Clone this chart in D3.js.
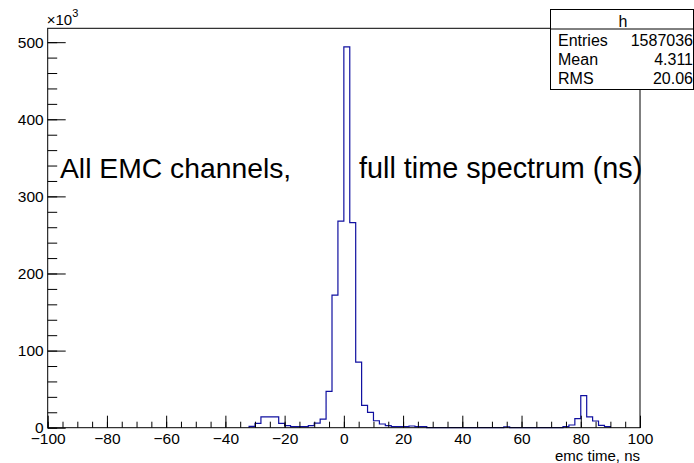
<!DOCTYPE html>
<html>
<head>
<meta charset="utf-8">
<script src="https://cdn.jsdelivr.net/npm/d3@7"></script>
<style>
  body { margin: 0; background: #fff; }
  svg { font-family: "Liberation Sans", Arial, sans-serif; }
</style>
</head>
<body>
<script>
// histogram bins, 2 ns wide, starting at -32 ns
const binStart = -32;
const binWidth = 2;
const counts = [
  1800, 5700, 14000, 14000, 14000, 5700, 2600, 1300, 1300, 1300,   // -32 .. -14
  2600, 6000, 11000, 47000, 172000, 268000,                          // -12 .. -2
  494000, 266000, 85000, 29000, 20000, 9000, 4800, 2600,              // 0 .. 14
  1300, 1300, 1300, 2200, 1300, 1300,                                 // 16 .. 26
  0, 0, 0, 0, 0, 0, 0, 0, 0, 0, 0, 0, 0,                              // 28 .. 52
  1000,                                                               // 54
  0, 0, 0, 0, 0, 0, 0, 0, 0,                                          // 56 .. 72
  1300, 3500, 11700, 41500, 14000, 8700, 3000, 1300                   // 74 .. 88
];

const xTicks = [-100, -80, -60, -40, -20, 0, 20, 40, 60, 80, 100];
const yTicks = [0, 100000, 200000, 300000, 400000, 500000];

const statsTitle = "h";
const statsRows = [["Entries", "1587036"], ["Mean", "4.311"], ["RMS", "20.06"]];

const width = 694, height = 463;
const m = {left: 47.7, right: 640, top: 28.3, bottom: 427.7};

const svg = d3.select("body").append("svg")
    .attr("width", width)
    .attr("height", height);

const x = d3.scaleLinear().domain([-100, 100]).range([m.left, m.right]);
const y = d3.scaleLinear().domain([0, 518000]).range([m.bottom, m.top]);

// histogram outline
const pts = [[binStart, 0]];
counts.forEach((c, i) => {
  const x0 = binStart + i * binWidth;
  pts.push([x0, c], [x0 + binWidth, c]);
});
pts.push([binStart + counts.length * binWidth, 0]);

svg.append("path")
    .attr("d", d3.line().x(d => x(d[0])).y(d => y(d[1]))(pts))
    .attr("fill", "none")
    .attr("stroke", "#1010a0")
    .attr("stroke-width", 1.2);

// frame
svg.append("rect")
    .attr("x", m.left).attr("y", m.top)
    .attr("width", m.right - m.left).attr("height", m.bottom - m.top)
    .attr("fill", "none").attr("stroke", "#000").attr("stroke-width", 1);

// x axis
const xAxis = svg.append("g").attr("transform", `translate(0,${m.bottom})`);
xAxis.call(d3.axisBottom(x).tickValues(d3.range(-100, 101, 5)).tickSize(-6).tickFormat(""));
xAxis.call(g => g.selectAll(".domain").remove());
const xMajor = svg.append("g").attr("transform", `translate(0,${m.bottom})`)
    .call(d3.axisBottom(x).tickValues(xTicks).tickSize(-12).tickPadding(4));
xMajor.select(".domain").remove();
xMajor.selectAll("text").attr("font-size", 15.5).attr("dy", null).attr("y", 16.3)
    .attr("font-family", "Liberation Sans, Arial, sans-serif");

// y axis
const yAxis = svg.append("g").attr("transform", `translate(${m.left},0)`);
yAxis.call(d3.axisLeft(y).tickValues(d3.range(0, 510000, 20000)).tickSize(-9.5).tickFormat(""));
yAxis.call(g => g.selectAll(".domain").remove());
const yMajor = svg.append("g").attr("transform", `translate(${m.left},0)`)
    .call(d3.axisLeft(y).tickValues(yTicks).tickSize(-18).tickPadding(4)
      .tickFormat(d => d / 1000));
yMajor.select(".domain").remove();
yMajor.selectAll("text").attr("font-size", 15.5).attr("x", -4)
    .attr("font-family", "Liberation Sans, Arial, sans-serif");
svg.selectAll(".tick line").attr("stroke-width", 1);

// exponent label
const expo = svg.append("text").attr("x", m.left - 1).attr("y", 24.5).attr("font-size", 15);
expo.append("tspan").text("\u00d710");
expo.append("tspan").attr("font-size", 11).attr("dy", -8).text("3");

// axis title
svg.append("text").attr("x", m.right).attr("y", 460.5)
    .attr("text-anchor", "end").attr("font-size", 15)
    .text("emc time, ns");

// annotation
svg.append("text").attr("x", 60).attr("y", 178).attr("font-size", 28.3)
    .text("All EMC channels,");
svg.append("text").attr("x", 359).attr("y", 178).attr("font-size", 28.8)
    .text("full time spectrum (ns)");

// stats box
const bx = 550.5, by = 9.5, bw = 143, bh = 80;
svg.append("rect").attr("x", bx).attr("y", by).attr("width", bw).attr("height", bh)
    .attr("fill", "#fff").attr("stroke", "#000").attr("stroke-width", 1);
svg.append("line").attr("x1", bx).attr("x2", bx + bw).attr("y1", 29).attr("y2", 29)
    .attr("stroke", "#000");
svg.append("text").attr("x", bx + bw / 2 + 1).attr("y", 26.5).attr("text-anchor", "middle")
    .attr("font-size", 16).text(statsTitle);
statsRows.forEach((r, i) => {
  const yy = 46 + i * 19;
  svg.append("text").attr("x", 558).attr("y", yy).attr("font-size", 16).text(r[0]);
  svg.append("text").attr("x", 693).attr("y", yy).attr("text-anchor", "end")
      .attr("font-size", 16).text(r[1]);
});
</script>
</body>
</html>
